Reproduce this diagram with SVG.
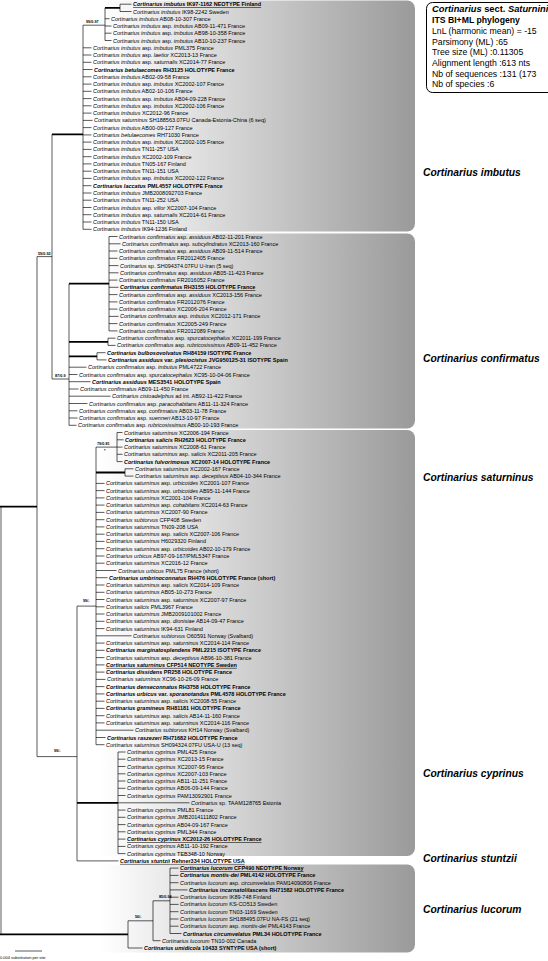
<svg xmlns="http://www.w3.org/2000/svg" width="548" height="961" viewBox="0 0 548 961">
<style>
.t{font-family:"Liberation Sans",Arial,sans-serif;font-size:5.5px;fill:#000;dominant-baseline:central}
.b{font-weight:bold}
.i{font-style:italic}
.u{text-decoration:underline}
.br{stroke:#000;stroke-width:0.65;fill:none}
.th{stroke:#000;stroke-width:1.8;fill:none}
.bs{font-family:"Liberation Sans",Arial,sans-serif;font-size:3.8px;font-weight:bold}
.cl{font-family:"Liberation Sans",Arial,sans-serif;font-size:10.3px;font-weight:bold;font-style:italic}
.lg{font-family:"Liberation Sans",Arial,sans-serif;font-size:8.7px}
.box{fill:url(#g)}
</style>
<defs>
<linearGradient id="g" gradientUnits="userSpaceOnUse" x1="100" y1="0" x2="415" y2="0"><stop offset="0" stop-color="#fff"/><stop offset="1" stop-color="#9a9a9a"/></linearGradient>
</defs>
<rect width="548" height="961" fill="#fff"/>
<g id="boxes">
<rect class="box" x="60" y="0.5" width="355" height="231" rx="8"/>
<rect class="box" x="60" y="233.5" width="355" height="195" rx="8"/>
<rect class="box" x="60" y="430" width="355" height="426" rx="8"/>
<rect class="box" x="60" y="864.5" width="355" height="88" rx="8"/>
</g>
<g id="connectors">
<path class="br" d="M120 4.2V11.5M105 7.8V40.5M83 25.2V229.3M109 236.5V330.9M108 338.2V345.4M97 352.7V359.9M69 283.7V425.3M52 134.3V379M117 432.5V461.6M125 468.8V476.1M96 447.1V744.7M118 752V853.6M77 606.1V860.9M37 256.6V756.6M170 868.1V933.5M153 900.8V940.7M128 920.8V948M1 506.6V934.4
M83 25.2H105M52 379H69M37 256.6H52M96 447.1H117M77 606.1H96M37 756.6H77M153 900.8H170M128 920.8H153"/>
<path class="th" d="M105 7.8H120M52 134.3H83M69 283.7H109M69 341.8H108M69 356.3H97M96 472.5H125M77 802.8H118M0 506.6H37M0 934.4H128"/>
<path class="br" d="M120 4.2H131.5M120 11.5H131.5M105 18.7H109.5M105 26H111.5M105 33.2H111.5M105 40.5H111.5
M83 47.8H91.5M83 55H91.5M83 62.3H91.5M83 69.5H92.5M83 76.8H91.5M83 84.1H91.5M83 91.3H91.5M83 98.6H91.5M83 105.8H91.5M83 113.1H91.5M83 120.4H92.5M83 127.6H91.5M83 134.9H91.5M83 142.1H91.5M83 149.4H91.5M83 156.7H91.5M83 163.9H91.5M83 171.2H91.5M83 178.4H91.5M83 185.7H91.5M83 193H91.5M83 200.2H91.5M83 207.5H91.5M83 214.7H91.5M83 222H91.5M83 229.3H91.5
M109 236.5H117.5M109 243.8H120.5M109 251H117.5M109 258.3H117.5M109 265.6H118.5M109 272.8H118.5M109 280.1H117.5M109 287.3H118.5M109 294.6H117.5M109 301.9H117.5M109 309.1H117.5M109 316.4H118.5M109 323.6H117.5M109 330.9H117.5
M108 338.2H115.5M108 345.4H115.5M97 352.7H105.5M97 359.9H106.5
M69 367.2H86.5M69 374.5H77.5M69 381.7H90.5M69 389H78.5M69 396.2H110.5M69 403.5H87.5M69 410.8H77.5M69 418H77.5M69 425.3H76.5
M117 432.5H122.5M117 439.8H123.5M117 447.1H122.5M117 454.3H122.5M117 461.6H122.5M125 468.8H133.5M125 476.1H133.5
M96 483.4H104.5M96 490.6H104.5M96 497.9H104.5M96 505.1H104.5M96 512.4H104.5M96 519.7H104.5M96 526.9H104.5M96 534.2H104.5M96 541.4H104.5M96 548.7H104.5M96 556H104.5M96 563.2H104.5M96 570.5H116.5M96 577.7H107.5M96 585H104.5M96 592.3H104.5M96 599.5H104.5M96 606.8H104.5M96 614H104.5M96 621.3H104.5M96 628.6H104.5M96 635.8H131.5M96 643.1H104.5M96 650.3H104.5M96 657.6H104.5M96 664.9H104.5M96 672.1H104.5M96 679.4H105.5M96 686.6H104.5M96 693.9H104.5M96 701.2H104.5M96 708.4H104.5M96 715.7H104.5M96 722.9H104.5M96 730.2H133.5M96 737.5H105.5M96 744.7H104.5
M118 752H125.5M118 759.2H125.5M118 766.5H125.5M118 773.8H125.5M118 781H125.5M118 788.3H125.5M118 795.5H125.5M118 802.8H189.5M118 810.1H125.5M118 817.3H125.5M118 824.6H125.5M118 831.8H125.5M118 839.1H125.5M118 846.4H125.5M118 853.6H125.5M77 860.9H118.5
M170 868.1H178.5M170 875.4H178.5M170 882.7H178.5M170 889.9H187.5M170 897.2H178.5M170 904.4H178.5M170 911.7H178.5M170 919H178.5M170 926.2H178.5M170 933.5H181.5M153 940.7H160.5M128 948H142.5
M15 951H42"/>
</g>
<g id="support">
<text class="bs" x="86" y="23">99/0.97</text>
<text class="bs" x="38" y="254.5">59/0.92</text>
<text class="bs" x="55" y="377">87/0.9</text>
<text class="bs" x="97" y="445">79/0.81</text>
<text class="bs" x="104" y="452">*</text>
<text class="bs" x="83" y="602">99/-</text>
<text class="bs" x="54" y="752">99/-</text>
<text class="bs" x="159" y="898">85/0.94</text>
<text class="bs" x="135" y="918">56/-</text>
</g>
<g id="tips">
<g id="n1"><text class="t b u" x="133" y="4.2"><tspan class="i">Cortinarius imbutus</tspan> IK97-1162 NEOTYPE Finland</text></g>
<g id="n2"><text class="t" x="133" y="11.5"><tspan class="i">Cortinarius imbutus</tspan> IK98-2242 Sweden</text></g>
<g id="n3"><text class="t" x="111" y="18.7"><tspan class="i">Cortinarius imbutus</tspan> AB08-10-307 France</text></g>
<g id="n4"><text class="t" x="113" y="26"><tspan class="i">Cortinarius imbutus</tspan> asp. <tspan class="i">imbutus</tspan> AB09-11-471 France</text></g>
<g id="n5"><text class="t" x="113" y="33.2"><tspan class="i">Cortinarius imbutus</tspan> asp. <tspan class="i">imbutus</tspan> AB98-10-358 France</text></g>
<g id="n6"><text class="t" x="113" y="40.5"><tspan class="i">Cortinarius imbutus</tspan> asp. <tspan class="i">imbutus</tspan> AB10-10-237 France</text></g>
<g id="n7"><text class="t" x="93" y="47.8"><tspan class="i">Cortinarius imbutus</tspan> asp. <tspan class="i">imbutus</tspan> PML375 France</text></g>
<g id="n8"><text class="t" x="93" y="55"><tspan class="i">Cortinarius imbutus</tspan> asp. <tspan class="i">laetior</tspan> XC2013-13 France</text></g>
<g id="n9"><text class="t" x="93" y="62.3"><tspan class="i">Cortinarius imbutus</tspan> asp. <tspan class="i">saturnalis</tspan> XC2014-77 France</text></g>
<g id="n10"><text class="t b" x="94" y="69.5"><tspan class="i">Cortinarius betulaecomes</tspan> RH3125 HOLOTYPE France</text></g>
<g id="n11"><text class="t" x="93" y="76.8"><tspan class="i">Cortinarius imbutus</tspan> AB02-09-58 France</text></g>
<g id="n12"><text class="t" x="93" y="84.1"><tspan class="i">Cortinarius imbutus</tspan> asp. <tspan class="i">imbutus</tspan> XC2002-107 France</text></g>
<g id="n13"><text class="t" x="93" y="91.3"><tspan class="i">Cortinarius imbutus</tspan> AB02-10-106 France</text></g>
<g id="n14"><text class="t" x="93" y="98.6"><tspan class="i">Cortinarius imbutus</tspan> asp. <tspan class="i">imbutus</tspan> AB04-09-228 France</text></g>
<g id="n15"><text class="t" x="93" y="105.8"><tspan class="i">Cortinarius imbutus</tspan> asp. <tspan class="i">imbutus</tspan> XC2002-106 France</text></g>
<g id="n16"><text class="t" x="93" y="113.1"><tspan class="i">Cortinarius imbutus</tspan> XC2012-96 France</text></g>
<g id="n17"><text class="t" x="94" y="120.4"><tspan class="i">Cortinarius saturninus</tspan> SH188563.07FU Canada-Estonia-China (6 seq)</text></g>
<g id="n18"><text class="t" x="93" y="127.6"><tspan class="i">Cortinarius imbutus</tspan> AB00-09-127 France</text></g>
<g id="n19"><text class="t" x="93" y="134.9"><tspan class="i">Cortinarius betulaecomes</tspan> RH71030 France</text></g>
<g id="n20"><text class="t" x="93" y="142.1"><tspan class="i">Cortinarius imbutus</tspan> asp. <tspan class="i">imbutus</tspan> XC2002-105 France</text></g>
<g id="n21"><text class="t" x="93" y="149.4"><tspan class="i">Cortinarius imbutus</tspan> TN11-257 USA</text></g>
<g id="n22"><text class="t" x="93" y="156.7"><tspan class="i">Cortinarius imbutus</tspan> XC2002-109 France</text></g>
<g id="n23"><text class="t" x="93" y="163.9"><tspan class="i">Cortinarius imbutus</tspan> TN05-167 Finland</text></g>
<g id="n24"><text class="t" x="93" y="171.2"><tspan class="i">Cortinarius imbutus</tspan> TN11-151 USA</text></g>
<g id="n25"><text class="t" x="93" y="178.4"><tspan class="i">Cortinarius imbutus</tspan> asp. <tspan class="i">imbutus</tspan> XC2002-122 France</text></g>
<g id="n26"><text class="t b" x="93" y="185.7"><tspan class="i">Cortinarius laccatus</tspan> PML4557 HOLOTYPE France</text></g>
<g id="n27"><text class="t" x="93" y="193"><tspan class="i">Cortinarius imbutus</tspan> JMB2008092703 France</text></g>
<g id="n28"><text class="t" x="93" y="200.2"><tspan class="i">Cortinarius imbutus</tspan> TN11-252 USA</text></g>
<g id="n29"><text class="t" x="93" y="207.5"><tspan class="i">Cortinarius imbutus</tspan> asp. <tspan class="i">villor</tspan> XC2007-104 France</text></g>
<g id="n30"><text class="t" x="93" y="214.7"><tspan class="i">Cortinarius imbutus</tspan> asp. <tspan class="i">saturnalis</tspan> XC2014-61 France</text></g>
<g id="n31"><text class="t" x="93" y="222"><tspan class="i">Cortinarius imbutus</tspan> TN11-150 USA</text></g>
<g id="n32"><text class="t" x="93" y="229.3"><tspan class="i">Cortinarius imbutus</tspan> IK94-1236 Finland</text></g>
<g id="n33"><text class="t" x="119" y="236.5"><tspan class="i">Cortinarius confirmatus</tspan> asp. <tspan class="i">assiduus</tspan> AB02-11-201 France</text></g>
<g id="n34"><text class="t" x="122" y="243.8"><tspan class="i">Cortinarius confirmatus</tspan> asp. <tspan class="i">subcylindratus</tspan> XC2013-160 France</text></g>
<g id="n35"><text class="t" x="119" y="251"><tspan class="i">Cortinarius confirmatus</tspan> asp. <tspan class="i">assiduus</tspan> AB09-11-514 France</text></g>
<g id="n36"><text class="t" x="119" y="258.3"><tspan class="i">Cortinarius confirmatus</tspan> FR2012405 France</text></g>
<g id="n37"><text class="t" x="120" y="265.6"><tspan class="i">Cortinarius</tspan> sp. SH094374.07FU U-Iran (5 seq)</text></g>
<g id="n38"><text class="t" x="120" y="272.8"><tspan class="i">Cortinarius confirmatus</tspan> asp. <tspan class="i">assiduus</tspan> AB05-11-423 France</text></g>
<g id="n39"><text class="t" x="119" y="280.1"><tspan class="i">Cortinarius confirmatus</tspan> FR2016052 France</text></g>
<g id="n40"><text class="t b u" x="120" y="287.3"><tspan class="i">Cortinarius confirmatus</tspan> RH3155 HOLOTYPE France</text></g>
<g id="n41"><text class="t" x="119" y="294.6"><tspan class="i">Cortinarius confirmatus</tspan> asp. <tspan class="i">assiduus</tspan> XC2013-156 France</text></g>
<g id="n42"><text class="t" x="119" y="301.9"><tspan class="i">Cortinarius confirmatus</tspan> FR2012076 France</text></g>
<g id="n43"><text class="t" x="119" y="309.1"><tspan class="i">Cortinarius confirmatus</tspan> XC2006-204 France</text></g>
<g id="n44"><text class="t" x="120" y="316.4"><tspan class="i">Cortinarius confirmatus</tspan> asp. <tspan class="i">imbutus</tspan> XC2012-171 France</text></g>
<g id="n45"><text class="t" x="119" y="323.6"><tspan class="i">Cortinarius confirmatus</tspan> XC2005-249 France</text></g>
<g id="n46"><text class="t" x="119" y="330.9"><tspan class="i">Cortinarius confirmatus</tspan> FR2012089 France</text></g>
<g id="n47"><text class="t" x="117" y="338.2"><tspan class="i">Cortinarius confirmatus</tspan> asp. <tspan class="i">spurcatocephalus</tspan> XC2011-199 France</text></g>
<g id="n48"><text class="t" x="117" y="345.4"><tspan class="i">Cortinarius confirmatus</tspan> asp. <tspan class="i">rubricosissimus</tspan> AB09-11-452 France</text></g>
<g id="n49"><text class="t b" x="107" y="352.7"><tspan class="i">Cortinarius bulbosovolvatus</tspan> RH84159 ISOTYPE France</text></g>
<g id="n50"><text class="t b" x="108" y="359.9"><tspan class="i">Cortinarius assiduus</tspan> var. <tspan class="i">plesiocistus</tspan> JVG950125-31 ISOTYPE Spain</text></g>
<g id="n51"><text class="t" x="88" y="367.2"><tspan class="i">Cortinarius confirmatus</tspan> asp. <tspan class="i">imbutus</tspan> PML4722 France</text></g>
<g id="n52"><text class="t" x="79" y="374.5"><tspan class="i">Cortinarius confirmatus</tspan> asp. <tspan class="i">spurcatocephalus</tspan> XC95-10-04-06 France</text></g>
<g id="n53"><text class="t b" x="92" y="381.7"><tspan class="i">Cortinarius assiduus</tspan> MES3541 HOLOTYPE Spain</text></g>
<g id="n54"><text class="t" x="80" y="389"><tspan class="i">Cortinarius confirmatus</tspan> AB09-11-450 France</text></g>
<g id="n55"><text class="t" x="112" y="396.2"><tspan class="i">Cortinarius cistoadelphus</tspan> ad int. AB92-11-422 France</text></g>
<g id="n56"><text class="t" x="89" y="403.5"><tspan class="i">Cortinarius confirmatus</tspan> asp. <tspan class="i">paracohabitans</tspan> AB11-11-324 France</text></g>
<g id="n57"><text class="t" x="79" y="410.8"><tspan class="i">Cortinarius confirmatus</tspan> asp. <tspan class="i">confirmatus</tspan> AB03-11-78 France</text></g>
<g id="n58"><text class="t" x="79" y="418"><tspan class="i">Cortinarius confirmatus</tspan> asp. <tspan class="i">suenneri</tspan> AB13-10-97 France</text></g>
<g id="n59"><text class="t" x="78" y="425.3"><tspan class="i">Cortinarius confirmatus</tspan> asp. <tspan class="i">rubricosissimus</tspan> AB00-10-193 France</text></g>
<g id="n60"><text class="t" x="124" y="432.5"><tspan class="i">Cortinarius saturninus</tspan> XC2006-194 France</text></g>
<g id="n61"><text class="t b" x="125" y="439.8"><tspan class="i">Cortinarius salicis</tspan> RH2623 HOLOTYPE France</text></g>
<g id="n62"><text class="t" x="124" y="447.1"><tspan class="i">Cortinarius saturninus</tspan> XC2008-61 France</text></g>
<g id="n63"><text class="t" x="124" y="454.3"><tspan class="i">Cortinarius saturninus</tspan> asp. <tspan class="i">salicis</tspan> XC2011-205 France</text></g>
<g id="n64"><text class="t b" x="124" y="461.6"><tspan class="i">Cortinarius fulvorimosus</tspan> XC2007-14 HOLOTYPE France</text></g>
<g id="n65"><text class="t" x="135" y="468.8"><tspan class="i">Cortinarius saturninus</tspan> XC2002-167 France</text></g>
<g id="n66"><text class="t" x="135" y="476.1"><tspan class="i">Cortinarius saturninus</tspan> asp. <tspan class="i">deceptivus</tspan> AB04-10-344 France</text></g>
<g id="n67"><text class="t" x="106" y="483.4"><tspan class="i">Cortinarius saturninus</tspan> asp. <tspan class="i">urbicoides</tspan> XC2001-107 France</text></g>
<g id="n68"><text class="t" x="106" y="490.6"><tspan class="i">Cortinarius saturninus</tspan> asp. <tspan class="i">urbicoides</tspan> AB95-11-144 France</text></g>
<g id="n69"><text class="t" x="106" y="497.9"><tspan class="i">Cortinarius saturninus</tspan> XC2001-104 France</text></g>
<g id="n70"><text class="t" x="106" y="505.1"><tspan class="i">Cortinarius saturninus</tspan> asp. <tspan class="i">cohabitans</tspan> XC2014-63 France</text></g>
<g id="n71"><text class="t" x="106" y="512.4"><tspan class="i">Cortinarius saturninus</tspan> XC2007-90 France</text></g>
<g id="n72"><text class="t" x="106" y="519.7"><tspan class="i">Cortinarius subtorvus</tspan> CFP408 Sweden</text></g>
<g id="n73"><text class="t" x="106" y="526.9"><tspan class="i">Cortinarius saturninus</tspan> TN09-208 USA</text></g>
<g id="n74"><text class="t" x="106" y="534.2"><tspan class="i">Cortinarius saturninus</tspan> asp. <tspan class="i">salicis</tspan> XC2007-106 France</text></g>
<g id="n75"><text class="t" x="106" y="541.4"><tspan class="i">Cortinarius saturninus</tspan> H6029320 Finland</text></g>
<g id="n76"><text class="t" x="106" y="548.7"><tspan class="i">Cortinarius saturninus</tspan> asp. <tspan class="i">urbicoides</tspan> AB02-10-179 France</text></g>
<g id="n77"><text class="t" x="106" y="556"><tspan class="i">Cortinarius urbicus</tspan> AB97-09-167/PML5347 France</text></g>
<g id="n78"><text class="t" x="106" y="563.2"><tspan class="i">Cortinarius saturninus</tspan> XC2016-12 France</text></g>
<g id="n79"><text class="t" x="118" y="570.5"><tspan class="i">Cortinarius urbicus</tspan> PML75 France (short)</text></g>
<g id="n80"><text class="t b" x="109" y="577.7"><tspan class="i">Cortinarius umbrinoconnatus</tspan> RH476 HOLOTYPE France (short)</text></g>
<g id="n81"><text class="t" x="106" y="585"><tspan class="i">Cortinarius saturninus</tspan> asp. <tspan class="i">salicis</tspan> XC2014-109 France</text></g>
<g id="n82"><text class="t" x="106" y="592.3"><tspan class="i">Cortinarius saturninus</tspan> AB05-10-273 France</text></g>
<g id="n83"><text class="t" x="106" y="599.5"><tspan class="i">Cortinarius saturninus</tspan> asp. <tspan class="i">saturninus</tspan> XC2007-97 France</text></g>
<g id="n84"><text class="t" x="106" y="606.8"><tspan class="i">Cortinarius salicis</tspan> PML3967 France</text></g>
<g id="n85"><text class="t" x="106" y="614"><tspan class="i">Cortinarius saturninus</tspan> JMB2009101002 France</text></g>
<g id="n86"><text class="t" x="106" y="621.3"><tspan class="i">Cortinarius saturninus</tspan> asp. <tspan class="i">dionisiae</tspan> AB14-09-47 France</text></g>
<g id="n87"><text class="t" x="106" y="628.6"><tspan class="i">Cortinarius saturninus</tspan> IK94-631 Finland</text></g>
<g id="n88"><text class="t" x="133" y="635.8"><tspan class="i">Cortinarius subtorvus</tspan> O60591 Norway (Svalbard)</text></g>
<g id="n89"><text class="t" x="106" y="643.1"><tspan class="i">Cortinarius saturninus</tspan> asp. <tspan class="i">saturninus</tspan> XC2014-114 France</text></g>
<g id="n90"><text class="t b" x="106" y="650.3"><tspan class="i">Cortinarius marginatosplendens</tspan> PML2215 ISOTYPE France</text></g>
<g id="n91"><text class="t" x="106" y="657.6"><tspan class="i">Cortinarius saturninus</tspan> asp. <tspan class="i">deceptivus</tspan> AB96-10-381 France</text></g>
<g id="n92"><text class="t b u" x="106" y="664.9"><tspan class="i">Cortinarius saturninus</tspan> CFP514 NEOTYPE Sweden</text></g>
<g id="n93"><text class="t b" x="106" y="672.1"><tspan class="i">Cortinarius dissidens</tspan> PR258 HOLOTYPE France</text></g>
<g id="n94"><text class="t" x="107" y="679.4"><tspan class="i">Cortinarius saturninus</tspan> XC96-10-26-09 France</text></g>
<g id="n95"><text class="t b" x="106" y="686.6"><tspan class="i">Cortinarius denseconnatus</tspan> RH3758 HOLOTYPE France</text></g>
<g id="n96"><text class="t b" x="106" y="693.9"><tspan class="i">Cortinarius urbicus</tspan> var. <tspan class="i">sporanotandus</tspan> PML4578 HOLOTYPE France</text></g>
<g id="n97"><text class="t" x="106" y="701.2"><tspan class="i">Cortinarius saturninus</tspan> asp. <tspan class="i">salicis</tspan> XC2008-55 France</text></g>
<g id="n98"><text class="t b" x="106" y="708.4"><tspan class="i">Cortinarius gramineus</tspan> RH81181 HOLOTYPE France</text></g>
<g id="n99"><text class="t" x="106" y="715.7"><tspan class="i">Cortinarius saturninus</tspan> asp. <tspan class="i">salicis</tspan> AB14-11-160 France</text></g>
<g id="n100"><text class="t" x="106" y="722.9"><tspan class="i">Cortinarius saturninus</tspan> asp. <tspan class="i">saturninus</tspan> XC2014-116 France</text></g>
<g id="n101"><text class="t" x="135" y="730.2"><tspan class="i">Cortinarius subtorvus</tspan> KH14 Norway (Svalbard)</text></g>
<g id="n102"><text class="t b" x="107" y="737.5"><tspan class="i">Cortinarius raszezeri</tspan> RH71682 HOLOTYPE France</text></g>
<g id="n103"><text class="t" x="106" y="744.7"><tspan class="i">Cortinarius saturninus</tspan> SH094324.07FU USA-U (13 seq)</text></g>
<g id="n104"><text class="t" x="127" y="752"><tspan class="i">Cortinarius cyprinus</tspan> PML425 France</text></g>
<g id="n105"><text class="t" x="127" y="759.2"><tspan class="i">Cortinarius cyprinus</tspan> XC2013-15 France</text></g>
<g id="n106"><text class="t" x="127" y="766.5"><tspan class="i">Cortinarius cyprinus</tspan> XC2007-95 France</text></g>
<g id="n107"><text class="t" x="127" y="773.8"><tspan class="i">Cortinarius cyprinus</tspan> XC2007-103 France</text></g>
<g id="n108"><text class="t" x="127" y="781"><tspan class="i">Cortinarius cyprinus</tspan> AB11-11-251 France</text></g>
<g id="n109"><text class="t" x="127" y="788.3"><tspan class="i">Cortinarius cyprinus</tspan> AB06-09-144 France</text></g>
<g id="n110"><text class="t" x="127" y="795.5"><tspan class="i">Cortinarius cyprinus</tspan> PAM13092901 France</text></g>
<g id="n111"><text class="t" x="191" y="802.8"><tspan class="i">Cortinarius</tspan> sp. TAAM128765 Estonia</text></g>
<g id="n112"><text class="t" x="127" y="810.1"><tspan class="i">Cortinarius cyprinus</tspan> PML81 France</text></g>
<g id="n113"><text class="t" x="127" y="817.3"><tspan class="i">Cortinarius cyprinus</tspan> JMB2014111802 France</text></g>
<g id="n114"><text class="t" x="127" y="824.6"><tspan class="i">Cortinarius cyprinus</tspan> AB04-09-167 France</text></g>
<g id="n115"><text class="t" x="127" y="831.8"><tspan class="i">Cortinarius cyprinus</tspan> PML344 France</text></g>
<g id="n116"><text class="t b u" x="127" y="839.1"><tspan class="i">Cortinarius cyprinus</tspan> XC2012-26 HOLOTYPE France</text></g>
<g id="n117"><text class="t" x="127" y="846.4"><tspan class="i">Cortinarius cyprinus</tspan> AB11-10-192 France</text></g>
<g id="n118"><text class="t" x="127" y="853.6"><tspan class="i">Cortinarius cyprinus</tspan> TEB348-10 Norway</text></g>
<g id="n119"><text class="t b u" x="120" y="860.9"><tspan class="i">Cortinarius stuntzii</tspan> Rehner334 HOLOTYPE USA</text></g>
<g id="n120"><text class="t b u" x="180" y="868.1"><tspan class="i">Cortinarius lucorum</tspan> CFP490 NEOTYPE Norway</text></g>
<g id="n121"><text class="t b" x="180" y="875.4"><tspan class="i">Cortinarius montis-dei</tspan> PML4142 HOLOTYPE France</text></g>
<g id="n122"><text class="t" x="180" y="882.7"><tspan class="i">Cortinarius lucorum</tspan> asp. <tspan class="i">circumvelatus</tspan> PAM14090806 France</text></g>
<g id="n123"><text class="t b" x="189" y="889.9"><tspan class="i">Cortinarius incarnatolilascens</tspan> RH71582 HOLOTYPE France</text></g>
<g id="n124"><text class="t" x="180" y="897.2"><tspan class="i">Cortinarius lucorum</tspan> IK89-748 Finland</text></g>
<g id="n125"><text class="t" x="180" y="904.4"><tspan class="i">Cortinarius lucorum</tspan> KS-CO513 Sweden</text></g>
<g id="n126"><text class="t" x="180" y="911.7"><tspan class="i">Cortinarius lucorum</tspan> TN03-1169 Sweden</text></g>
<g id="n127"><text class="t" x="180" y="919"><tspan class="i">Cortinarius lucorum</tspan> SH188495.07FU NA-FS (21 seq)</text></g>
<g id="n128"><text class="t" x="180" y="926.2"><tspan class="i">Cortinarius lucorum</tspan> asp. <tspan class="i">montis-dei</tspan> PML4143 France</text></g>
<g id="n129"><text class="t b" x="183" y="933.5"><tspan class="i">Cortinarius circumvelatus</tspan> PML34 HOLOTYPE France</text></g>
<g id="n130"><text class="t" x="162" y="940.7"><tspan class="i">Cortinarius lucorum</tspan> TN10-002 Canada</text></g>
<g id="n131"><text class="t b" x="144" y="948"><tspan class="i">Cortinarius umidicola</tspan> 10433 SYNTYPE USA (short)</text></g>
</g>
<g id="clades">
<text class="cl" x="423" y="176">Cortinarius imbutus</text>
<text class="cl" x="423" y="362">Cortinarius confirmatus</text>
<text class="cl" x="423" y="481">Cortinarius saturninus</text>
<text class="cl" x="423" y="777">Cortinarius cyprinus</text>
<text class="cl" x="423" y="862">Cortinarius stuntzii</text>
<text class="cl" x="423" y="913">Cortinarius lucorum</text>
</g>
<g id="legend">
<rect x="426.5" y="2.5" width="140" height="90" rx="6" fill="#fff" stroke="#000" stroke-width="1"/>
<text class="lg b" style="font-size:9.3px" x="432" y="12"><tspan class="i">Cortinarius</tspan> sect. <tspan class="i">Saturnini</tspan></text>
<text class="lg b" x="432" y="23">ITS BI+ML phylogeny</text>
<text class="lg" x="432" y="34">LnL (harmonic mean) = -15</text>
<text class="lg" x="432" y="44.5">Parsimony (ML) :65</text>
<text class="lg" x="432" y="55">Tree size (ML) :0.11305</text>
<text class="lg" x="432" y="66">Alignment length :613 nts</text>
<text class="lg" x="432" y="76.5">Nb of sequences :131 (173</text>
<text class="lg" x="432" y="87">Nb of species :6</text>
</g>
<g id="scale">
<text class="bs" style="font-weight:normal;font-size:4px" x="0" y="959">0.004 substitution per site</text>
</g>
</svg>
